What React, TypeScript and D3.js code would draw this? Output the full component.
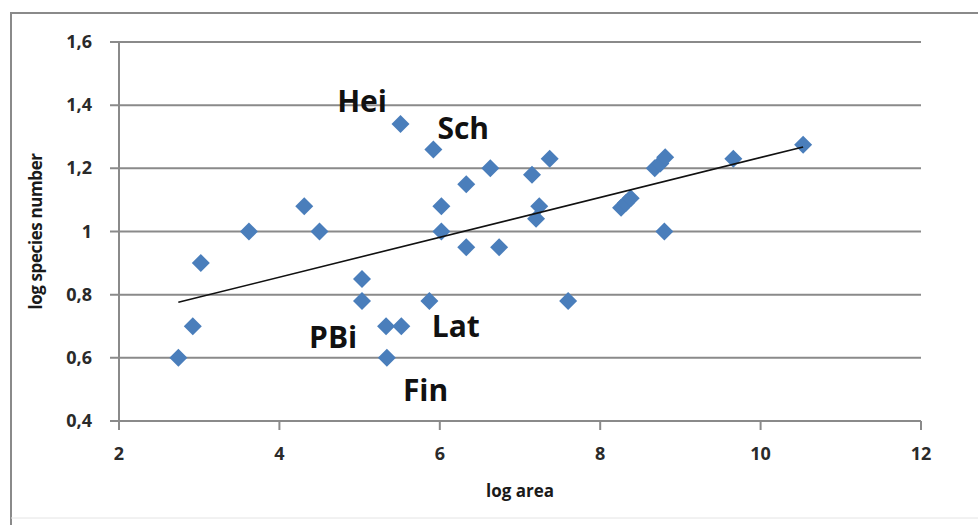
import * as d3 from "d3";
import { useRef, useEffect } from "react";

// log area / log species number per site
const logArea = [
  2.74, 2.92, 3.02, 3.62, 4.31, 4.5, 5.03, 5.03, 5.33, 5.52, 5.34, 5.51, 5.87,
  5.92, 6.02, 6.02, 6.33, 6.33, 6.63, 6.74, 7.15, 7.37, 7.24, 7.2, 7.6, 8.26,
  8.32, 8.38, 8.68, 8.75, 8.81, 8.8, 9.66, 10.53,
];
const logSpecies = [
  0.6, 0.7, 0.9, 1.0, 1.08, 1.0, 0.85, 0.78, 0.7, 0.7, 0.6, 1.34, 0.78, 1.26,
  1.08, 1.0, 1.15, 0.95, 1.2, 0.95, 1.18, 1.23, 1.08, 1.04, 0.78, 1.075, 1.09,
  1.105, 1.2, 1.215, 1.235, 1.0, 1.23, 1.275,
];

const xTicks = [2, 4, 6, 8, 10, 12];
const yTicks = [0.4, 0.6, 0.8, 1.0, 1.2, 1.4, 1.6];

const siteLabels = ["Hei", "Sch", "PBi", "Lat", "Fin"];
const siteLabelX = [4.72, 5.97, 4.37, 5.9, 5.54];
const siteLabelY = [1.379, 1.293, 0.632, 0.667, 0.462];

export default function App() {
  const ref = useRef<SVGSVGElement>(null);

  useEffect(() => {
    const width = 978;
    const height = 525;
    const svg = d3.select(ref.current);
    svg.selectAll("*").remove();
    svg.attr("width", width).attr("height", height);

    const font = "'Open Sans', sans-serif";
    const grey = "#8a8a8a";

    svg.append("rect").attr("width", width).attr("height", height).attr("fill", "#fff");

    // chart frame
    svg.append("path")
      .attr("d", `M11,${height} V13 H${width}`)
      .attr("fill", "none")
      .attr("stroke", grey)
      .attr("stroke-width", 2);
    svg.append("line")
      .attr("x1", 11).attr("x2", width).attr("y1", 518).attr("y2", 518)
      .attr("stroke", "#e4e4e4").attr("stroke-width", 1);

    const x = d3.scaleLinear().domain([2, 12]).range([119, 921]);
    const y = d3.scaleLinear().domain([0.4, 1.6]).range([421, 42]);

    // gridlines + y ticks
    svg.append("g")
      .selectAll("line")
      .data(yTicks)
      .enter()
      .append("line")
      .attr("x1", 110)
      .attr("x2", x(12))
      .attr("y1", d => y(d))
      .attr("y2", d => y(d))
      .attr("stroke", grey)
      .attr("stroke-width", 2);

    // y axis line
    svg.append("line")
      .attr("x1", x(2)).attr("x2", x(2))
      .attr("y1", y(1.6)).attr("y2", y(0.4))
      .attr("stroke", grey).attr("stroke-width", 2);

    // x ticks
    svg.append("g")
      .selectAll("line")
      .data(xTicks)
      .enter()
      .append("line")
      .attr("x1", d => x(d))
      .attr("x2", d => x(d))
      .attr("y1", y(0.4))
      .attr("y2", y(0.4) + 9)
      .attr("stroke", grey)
      .attr("stroke-width", 2);

    const fmt = (d: number) => (d === 1 ? "1" : d3.format(".1f")(d).replace(".", ","));

    svg.append("g")
      .selectAll("text")
      .data(yTicks)
      .enter()
      .append("text")
      .text(d => fmt(d))
      .attr("x", 92)
      .attr("y", d => y(d) + 6)
      .attr("text-anchor", "end")
      .style("font-family", font)
      .style("font-weight", 700)
      .style("font-size", "18px")
      .style("fill", "#2a2a2a");

    svg.append("g")
      .selectAll("text")
      .data(xTicks)
      .enter()
      .append("text")
      .text(d => d)
      .attr("x", d => x(d))
      .attr("y", 460)
      .attr("text-anchor", "middle")
      .style("font-family", font)
      .style("font-weight", 700)
      .style("font-size", "18px")
      .style("fill", "#2a2a2a");

    // axis titles
    svg.append("text")
      .text("log area")
      .attr("x", (x(2) + x(12)) / 2)
      .attr("y", 497)
      .attr("text-anchor", "middle")
      .style("font-family", font)
      .style("font-weight", 700)
      .style("font-size", "17px")
      .style("fill", "#1a1a1a");

    svg.append("text")
      .text("log species number")
      .attr("transform", `translate(42, ${(y(0.4) + y(1.6)) / 2}) rotate(-90)`)
      .attr("text-anchor", "middle")
      .style("font-family", font)
      .style("font-weight", 700)
      .style("font-size", "17px")
      .style("letter-spacing", "-0.4px")
      .style("fill", "#1a1a1a");

    // points
    const pts = logArea.map((a, i) => ({ a, s: logSpecies[i] }));
    const r = 9;
    svg.append("g")
      .selectAll("path")
      .data(pts)
      .enter()
      .append("path")
      .attr("d", `M0,${-r} L${r},0 L0,${r} L${-r},0 Z`)
      .attr("transform", d => `translate(${x(d.a)},${y(d.s)})`)
      .attr("fill", "#4a7ebb");

    // linear trend line (least squares)
    const mx = d3.mean(logArea)!;
    const my = d3.mean(logSpecies)!;
    const slope =
      d3.sum(pts, d => (d.a - mx) * (d.s - my)) / d3.sum(pts, d => (d.a - mx) ** 2);
    const icpt = my - slope * mx;
    const [x0, x1] = d3.extent(logArea) as [number, number];
    svg.append("line")
      .attr("x1", x(x0)).attr("y1", y(icpt + slope * x0))
      .attr("x2", x(x1)).attr("y2", y(icpt + slope * x1))
      .attr("stroke", "#111")
      .attr("stroke-width", 1.6);

    // site labels
    svg.append("g")
      .selectAll("text")
      .data(siteLabels)
      .enter()
      .append("text")
      .text(d => d)
      .attr("x", (d, i) => x(siteLabelX[i]))
      .attr("y", (d, i) => y(siteLabelY[i]))
      .style("font-family", font)
      .style("font-weight", 700)
      .style("font-size", "30px")
      .style("fill", "#111");
  }, []);

  return <svg ref={ref} style={{ position: "absolute", left: 0, top: 0 }}></svg>;
}
